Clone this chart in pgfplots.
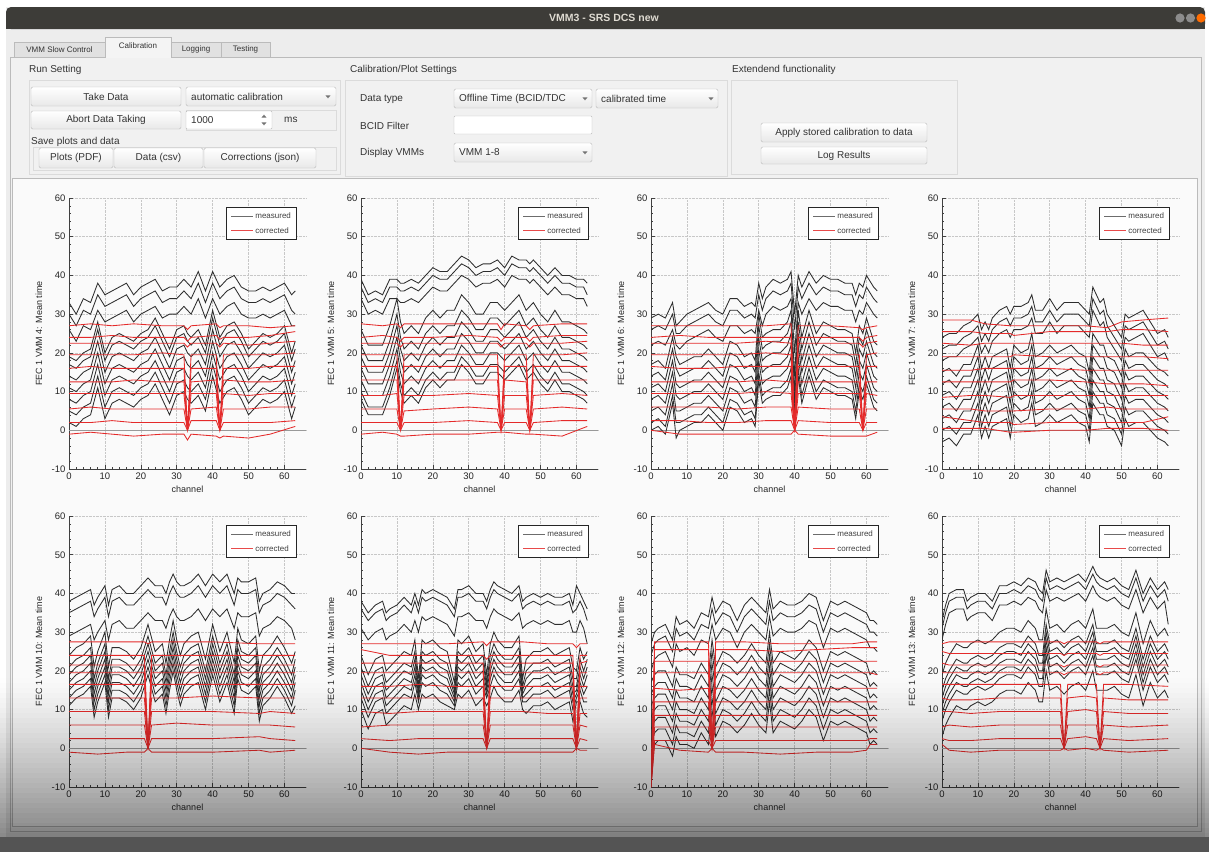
\documentclass[border=0pt]{standalone}
\usepackage{fontspec}
\setmainfont{Liberation Sans}
\usepackage{pgfplots}
\usepackage{pgfplotstable}
\pgfplotsset{compat=1.18}

\definecolor{winbg}{HTML}{EDEDED}
\definecolor{titlebar}{HTML}{3D3C38}
\definecolor{titletext}{HTML}{DFDBD2}
\definecolor{tabbg}{HTML}{E1E1E1}
\definecolor{tabsel}{HTML}{F4F4F4}
\definecolor{bord}{HTML}{BBBBBB}
\definecolor{panelbg}{HTML}{F1F1F1}
\definecolor{plotbg}{HTML}{FAFAFA}
\definecolor{guitext}{HTML}{333333}
\definecolor{meas}{RGB}{45,45,45}
\definecolor{corr}{RGB}{228,42,42}

% ---------------- data: measured (black) ----------------
\pgfplotstableread{
ch m1 m2 m3 m4 m5 m6 m7 m8 m9 m10
0 33 30 26 19 17 14 11 8 5 2
2 30 27 23 18 16 13 10 7 4 1
4 34 31 27 20 18 15 12 9 6 3
6 33 30 26 21 19 16 13 10 7 4
8 38 35 31 28 26 23 20 17 14 11
10 35 32 28 20 18 15 12 9 6 3
12 36 33 29 24 22 19 16 13 10 7
14 37 34 30 25 23 20 17 14 11 8
16 38 35 31 24 22 19 16 13 10 7
18 35 32 28 23 21 18 15 12 9 6
20 37 34 30 25 23 20 17 14 11 8
22 38 35 31 26 24 21 18 15 12 9
24 39 36 32 29 27 24 21 18 15 12
26 36 33 29 25 23 20 17 14 11 8
28 37 34 30 21 19 16 13 10 7 4
30 37 34 30 26 24 21 18 15 12 9
32 39 36 32 27 25 22 19 16 13 10
33 38 35 31 25 23 20 17 14 11 8
34 37 34 30 24 22 19 16 13 10 7
36 41 38 34 26 24 21 18 15 12 9
38 36 33 29 22 20 17 14 11 8 5
40 41 38 34 31 29 26 23 20 17 14
42 37 34 30 24 22 19 16 13 10 7
44 39 36 32 27 25 22 19 16 13 10
46 40 37 33 28 26 23 20 17 14 11
48 37 34 30 25 23 20 17 14 11 8
50 36 33 29 21 19 16 13 10 7 4
52 36 33 29 23 21 18 15 12 9 6
54 37 34 30 25 23 20 17 14 11 8
56 36 33 29 24 22 19 16 13 10 7
58 37 34 30 25 23 20 17 14 11 8
60 38 35 31 27 25 22 19 16 13 10
62 35 31 27 20 18 15 12 9 6 3
63 36 30 27 23 21 18 15 12 9 6
}\MeasA
\pgfplotstableread{
ch m1 m2 m3 m4 m5 m6 m7 m8 m9 m10
0 39 37 34 26 22 19 16 13 10 8
2 35 33 30 22 18 15 12 9 6 4
4 36 34 31 22 18 15 12 9 6 4
6 35 33 30 22 18 15 12 9 6 4
8 39 37 34 27 23 20 17 14 11 9
10 39 37 34 34 30 27 24 21 18 16
11 38 36 33 28 24 21 18 15 12 10
12 38 36 33 25 21 18 15 12 9 7
14 39 37 34 27 23 20 17 14 11 9
16 38 36 33 25 21 18 15 12 9 7
18 40 38 35 29 25 22 19 16 13 11
20 42 40 37 31 27 24 21 18 15 13
22 41 39 36 29 25 22 19 16 13 11
24 41 39 36 31 27 24 21 18 15 13
26 43 41 38 31 27 24 21 18 15 13
28 45 43 40 35 31 28 25 22 19 17
30 44 42 39 33 29 26 23 20 17 15
32 42 40 37 30 26 23 20 17 14 12
34 43 41 38 30 26 23 20 17 14 12
36 43 41 38 33 29 26 23 20 17 15
38 44 42 39 33 29 26 23 20 17 15
39 43 41 38 32 28 25 22 19 16 14
40 42 40 37 31 27 24 21 18 15 13
42 45 43 40 33 29 26 23 20 17 15
44 44 42 39 35 31 28 25 22 19 17
46 44 42 39 31 27 24 21 18 15 13
47 43 41 38 32 28 25 22 19 16 14
48 44 42 39 33 29 26 23 20 17 15
50 42 40 37 30 26 23 20 17 14 12
52 40 38 35 28 24 21 18 15 12 10
54 42 40 37 31 27 24 21 18 15 13
56 40 38 35 28 24 21 18 15 12 10
58 40 38 35 28 24 21 18 15 12 10
60 39 37 34 27 23 20 17 14 11 9
62 39 37 34 26 22 19 16 13 10 8
63 38 35 32 25 21 18 15 12 9 7
}\MeasB
\pgfplotstableread{
ch m1 m2 m3 m4 m5 m6 m7 m8 m9 m10
0 29 26 22 17 14 11 8 5 2 0
2 30 27 23 18 15 12 9 6 3 1
4 29 26 22 16 13 10 7 4 1 -1
6 33 30 26 24 21 18 15 12 9 7
7 27 25 22 19 16 12 9 5 2 -2
8 28 25 21 17 14 11 8 5 2 0
10 30 27 23 18 15 12 9 6 3 1
12 31 28 24 19 16 13 10 7 4 2
14 32 29 25 19 16 13 10 7 4 2
16 33 30 26 21 18 15 12 9 6 4
18 31 28 24 19 16 13 10 7 4 2
20 30 27 23 17 14 11 8 5 2 0
22 34 31 27 23 20 17 14 11 8 6
24 34 31 27 22 19 16 13 10 7 5
26 32 29 25 19 16 13 10 7 4 2
28 33 30 26 20 17 14 11 8 5 3
29 32 29 25 18 15 12 9 6 3 1
30 38 35 31 30 27 24 21 18 15 13
31 34 31 27 24 21 18 15 12 9 7
32 37 34 30 25 22 19 16 13 10 8
34 39 36 32 26 23 20 17 14 11 9
36 38 35 31 26 23 20 17 14 11 9
38 39 36 32 28 25 22 19 16 13 11
39 41 38 34 31 28 25 22 19 16 14
40 30 26 20 14 10 7 4 2 1 0
41 40 37 33 31 28 25 22 19 16 14
42 37 34 30 24 21 18 15 12 9 7
44 41 38 34 31 28 25 22 19 16 14
46 38 35 31 25 22 19 16 13 10 8
48 40 37 33 28 25 22 19 16 13 11
50 39 36 32 27 24 21 18 15 12 10
52 39 36 32 26 23 20 17 14 11 9
54 38 35 31 26 23 20 17 14 11 9
56 38 35 31 25 22 19 16 13 10 8
57 35 32 28 20 17 14 11 8 5 3
58 38 35 31 27 24 21 18 15 12 10
59 37 34 30 25 22 19 16 13 10 8
60 40 37 33 29 26 23 20 17 14 12
62 37 34 30 23 20 17 14 11 8 6
63 36 33 29 22 19 16 13 10 7 5
}\MeasC
\pgfplotstableread{
ch m1 m2 m3 m4 m5 m6 m7 m8 m9 m10
0 24 21 18 15 12 9 6 3 0 -3
2 25 22 19 16 13 10 7 4 1 -2
4 25 22 19 14 11 8 5 2 -1 -4
6 27 24 21 17 14 11 8 5 2 -1
8 28 25 22 17 14 11 8 5 2 -1
10 30 27 24 22 19 16 13 10 7 4
11 26 23 20 16 13 10 7 4 1 -2
12 28 25 22 19 16 13 10 7 4 1
13 26 23 20 16 13 10 7 4 1 -2
14 29 26 23 19 16 13 10 7 4 1
16 31 28 25 20 17 14 11 8 5 2
18 32 29 26 21 18 15 12 9 6 3
19 30 27 24 16 13 10 7 4 1 -2
20 32 29 26 22 19 16 13 10 7 4
22 32 29 26 20 17 14 11 8 5 2
24 33 30 27 21 18 15 12 9 6 3
25 35 32 29 25 22 19 16 13 10 7
26 31 28 25 19 16 13 10 7 4 1
28 31 28 25 20 17 14 11 8 5 2
30 34 31 28 22 19 16 13 10 7 4
32 31 28 25 20 17 14 11 8 5 2
34 33 30 27 21 18 15 12 9 6 3
36 33 30 27 22 19 16 13 10 7 4
38 33 30 27 20 17 14 11 8 5 2
40 31 28 25 19 16 13 10 7 4 1
41 30 27 24 15 12 9 6 3 0 -3
42 37 34 31 25 22 19 16 13 10 7
44 33 30 27 22 19 16 13 10 7 4
45 34 31 28 22 19 16 13 10 7 4
46 30 27 24 19 16 13 10 7 4 1
48 27 24 21 18 15 12 9 6 3 0
50 24 21 18 14 11 8 5 2 -1 -4
51 30 27 24 21 18 15 12 9 6 3
52 29 26 23 19 16 13 10 7 4 1
54 30 27 24 20 17 14 11 8 5 2
56 31 28 25 20 17 14 11 8 5 2
58 28 25 22 18 15 12 9 6 3 0
60 25 22 19 16 13 10 7 4 1 -2
62 26 23 20 15 12 9 6 3 0 -3
63 24 21 18 14 11 8 5 2 -1 -4
}\MeasD
\pgfplotstableread{
ch m1 m2 m3 m4 m5 m6 m7 m8 m9 m10
0 38 35 29 24 21 19 17 15 13 11
2 39 36 30 26 23 21 19 17 15 13
4 40 37 31 27 24 22 20 18 16 14
6 41 38 32 29 26 24 22 20 18 16
7 37 34 28 21 18 16 14 12 10 8
8 39 36 30 25 22 20 18 16 14 12
10 42 39 33 30 27 25 23 21 19 17
11 37 34 28 21 18 16 14 12 10 8
12 41 38 32 26 23 21 19 17 15 13
14 42 39 33 26 23 21 19 17 15 13
16 40 37 31 25 22 20 18 16 14 12
18 40 37 31 23 20 18 16 14 12 10
20 42 39 33 26 23 21 19 17 15 13
22 44 41 35 32 29 27 25 23 21 19
24 42 39 33 25 22 20 18 16 14 12
26 42 39 33 27 24 22 20 18 16 14
27 40 37 31 22 19 17 15 13 11 9
28 43 40 34 28 25 23 21 19 17 15
29 45 42 36 33 30 28 26 24 22 20
30 43 40 34 28 25 23 21 19 17 15
31 42 39 33 24 21 19 17 15 13 11
32 42 39 33 27 24 22 20 18 16 14
34 43 40 34 29 26 24 22 20 18 16
36 45 42 36 30 27 25 23 21 19 17
38 42 39 33 23 20 18 16 14 12 10
40 45 42 36 32 29 27 25 23 21 19
42 43 40 34 25 22 20 18 16 14 12
44 45 42 36 30 27 25 23 21 19 17
46 40 37 31 22 19 17 15 13 11 9
47 44 41 35 31 28 26 24 22 20 18
48 43 40 34 28 25 23 21 19 17 15
50 43 40 34 27 24 22 20 18 16 14
52 44 41 35 29 26 24 22 20 18 16
53 38 35 29 20 17 15 13 11 9 7
54 40 37 31 24 21 19 17 15 13 11
56 41 38 32 26 23 21 19 17 15 13
58 43 40 34 29 26 24 22 20 18 16
60 42 39 33 26 23 21 19 17 15 13
62 40 37 31 22 19 17 15 13 11 9
63 40 36 28 25 23 21 19 17 15 11
}\MeasE
\pgfplotstableread{
ch m1 m2 m3 m4 m5 m6 m7 m8 m9 m10
0 38 36 31 24 21 19 17 15 13 10
2 35 33 28 19 16 14 12 10 8 5
4 37 35 30 23 20 18 16 14 12 9
6 38 36 31 24 21 19 17 15 13 10
7 35 33 28 20 17 15 13 11 9 6
8 36 34 29 21 18 16 14 12 10 7
10 37 35 30 23 20 18 16 14 12 9
12 39 37 32 25 22 20 18 16 14 11
14 37 35 30 24 21 19 17 15 13 10
15 40 38 33 28 25 23 21 19 17 14
16 37 35 30 18 16 15 14 13 12 10
17 41 39 34 28 25 23 21 19 17 14
18 40 38 33 27 24 22 20 18 16 13
20 41 39 34 28 25 23 21 19 17 14
22 40 38 33 26 23 21 19 17 15 12
24 39 37 32 25 22 20 18 16 14 11
26 36 34 29 17 15 14 13 12 11 10
27 41 39 34 28 25 23 21 19 17 14
28 41 39 34 27 24 22 20 18 16 13
30 42 40 35 29 26 24 22 20 18 15
32 40 38 33 25 22 20 18 16 14 11
34 40 38 33 27 24 22 20 18 16 13
35 38 36 31 19 17 16 15 14 13 11
36 41 39 34 27 24 22 20 18 16 13
37 43 41 36 30 27 25 23 21 19 16
38 42 40 35 28 25 23 21 19 17 14
40 41 39 34 26 23 21 19 17 15 12
42 40 38 33 26 23 21 19 17 15 12
44 42 40 35 29 26 24 22 20 18 15
45 38 36 31 18 16 15 14 13 12 10
46 39 37 32 23 20 18 16 14 12 9
48 40 38 33 25 22 20 18 16 14 11
50 39 37 32 25 22 20 18 16 14 11
52 40 38 33 26 23 21 19 17 15 12
54 39 37 32 24 21 19 17 15 13 10
56 39 37 32 25 22 20 18 16 14 11
58 40 38 33 26 23 21 19 17 15 12
59 37 35 30 21 18 16 14 12 10 7
60 42 36 30 20 18 16 15 14 13 12
61 40 38 33 26 23 21 19 17 15 12
62 38 36 31 23 20 18 16 14 12 9
63 36 33 27 25 23 21 19 16 12 8
}\MeasF
\pgfplotstableread{
ch m1 m2 m3 m4 m5 m6 m7 m8 m9 m10
0 27 24 20 17 14 11 8 5 2 -1
1 30 27 23 19 16 13 10 7 4 1
2 31 28 24 20 17 14 11 8 5 2
4 32 29 25 20 17 14 11 8 5 2
6 28 25 21 16 13 10 7 4 1 -2
7 34 31 27 21 18 15 12 9 6 3
8 32 29 25 19 16 13 10 7 4 1
10 33 30 26 19 16 13 10 7 4 1
12 31 28 24 18 15 12 9 6 3 0
14 35 32 28 22 19 16 13 10 7 4
16 34 31 27 19 16 13 10 7 4 1
17 39 36 32 28 25 22 19 16 13 10
18 35 32 28 21 18 15 12 9 6 3
20 38 35 31 25 22 19 16 13 10 7
22 37 34 30 24 21 18 15 12 9 6
24 33 30 26 22 19 16 13 10 7 4
26 37 34 30 24 21 18 15 12 9 6
28 39 36 32 27 24 21 18 15 12 9
30 37 34 30 24 21 18 15 12 9 6
32 35 32 28 22 19 16 13 10 7 4
33 41 38 34 30 27 24 21 18 15 12
34 36 33 29 22 19 16 13 10 7 4
36 38 35 31 25 22 19 16 13 10 7
38 37 34 30 24 21 18 15 12 9 6
40 37 34 30 23 20 17 14 11 8 5
42 38 35 31 25 22 19 16 13 10 7
44 40 37 33 28 25 22 19 16 13 10
46 39 36 32 26 23 20 17 14 11 8
48 33 30 26 20 17 14 11 8 5 2
50 38 35 31 25 22 19 16 13 10 7
52 37 34 30 24 21 18 15 12 9 6
54 38 35 31 25 22 19 16 13 10 7
56 37 34 30 24 21 18 15 12 9 6
58 36 33 29 23 20 17 14 11 8 5
60 35 32 28 22 19 16 13 10 7 4
61 33 30 26 19 16 13 10 7 4 1
62 33 30 26 20 17 14 11 8 5 2
63 32 29 25 19 16 13 10 7 4 1
}\MeasG
\pgfplotstableread{
ch m1 m2 m3 m4 m5 m6 m7 m8 m9 m10
0 33 31 28 19 15 13 11 9 7 3
1 37 35 32 22 18 16 14 12 10 6
2 40 38 35 24 20 18 16 14 12 8
4 41 39 36 27 23 21 19 17 15 11
6 41 39 36 26 22 20 18 16 14 10
7 38 36 33 26 22 20 18 16 14 10
8 39 37 34 27 23 21 19 17 15 11
10 40 38 35 28 24 22 20 18 16 12
12 40 38 35 27 23 21 19 17 15 11
14 38 36 33 28 24 22 20 18 16 12
16 42 40 37 30 26 24 22 20 18 14
18 42 40 37 31 27 25 23 21 19 15
20 43 41 38 31 27 25 23 21 19 15
22 42 40 37 30 26 24 22 20 18 14
24 44 42 39 33 29 27 25 23 21 17
26 43 41 38 31 27 25 23 21 19 15
27 41 39 36 28 24 22 20 18 16 12
28 40 38 35 28 24 22 20 18 16 12
29 46 44 41 36 32 30 28 26 24 20
30 43 41 38 31 27 25 23 21 19 15
32 44 42 39 32 28 26 24 22 20 16
34 43 41 38 30 26 24 22 20 18 14
36 44 42 39 32 28 26 24 22 20 16
38 45 43 40 33 29 27 25 23 21 17
40 43 41 38 31 27 25 23 21 19 15
42 47 45 42 36 32 30 28 26 24 20
43 45 43 40 31 27 25 23 21 19 15
44 44 42 39 31 27 25 23 21 19 15
46 43 41 38 31 27 25 23 21 19 15
48 44 42 39 32 28 26 24 22 20 16
50 42 40 37 30 26 24 22 20 18 14
52 41 39 36 29 25 23 21 19 17 13
54 46 44 41 35 31 29 27 25 23 19
56 40 38 35 27 23 21 19 17 15 11
58 44 42 39 33 29 27 25 23 21 17
60 41 39 36 29 25 23 21 19 17 13
62 43 41 38 31 27 25 23 21 19 15
63 41 38 32 29 25 23 21 19 17 13
}\MeasH

% ---------------- data: corrected (red) ----------------
\pgfplotstableread{
ch c1 c2 c3 c4 c5 c6 c7 c8 c9 c10
0 27 24 22.5 19.5 16 12.5 9.5 5.5 2 -1
6 27.5 24 22.5 19.5 16.5 12.5 9.5 6 2 -0.5
12 27 24.5 22.5 19.5 16 12.5 9.5 5.5 2.5 -1
18 27.5 24 22.5 19.5 16 13 9.5 5.5 2 -1.5
26 27 24 22.5 20 16 12.5 9.5 5.5 2 -1
32 27 24 22.5 19.5 16 12.5 9.5 5.5 2 -1
33 26 23 21.5 0 0 0 0 0 0 -2.5
34 27 24 22.5 19.5 16 12.5 9.5 5.5 2.5 -1
41 27.5 24.5 22.5 19.5 16 13 9.5 6 2.5 -1.5
42 26.5 23.5 21.5 0 0 0 0 0 0 -2
43 27 24 22.5 19.5 16 13 9.5 5.5 2 -1.5
50 27 24 22 19.5 16 12.5 9 5.5 2 -2
56 26.5 24.5 22.5 19.5 16.5 12.5 9.5 6 2 -1
63 27 25.5 23 20 16.5 13 9.5 6 2.5 1
}\CorrA
\pgfplotstableread{
ch c1 c2 c3 c4 c5 c6 c7 c8 c9 c10
0 27.5 24 22.5 19.5 16.5 13 9 5.5 2 -1
6 27 24.5 22.5 19.5 16.5 13 9 5.5 2 -0.5
10 27.5 24 22.5 19.5 16.5 13 9.5 5.5 2 -1
11 26.5 23 21.5 0 0 0 0 0 0 -1.5
12 27.5 24 22.5 19.5 16.5 13 9 5 2 -1.5
20 27.5 24 22.5 19.5 16.5 13 9 5.5 2 -1
30 27.5 24.5 22.5 19.5 16.5 13 9.5 6 2.5 -1
38 27.5 24 22.5 19.5 16.5 13 9 5.5 2 -0.5
39 26 23 21.5 0 0 0 0 0 0 -0.5
40 27.5 24 22.5 19.5 16.5 13 9 5.5 2 -0.5
46 27 24 22.5 19.5 16.5 12.5 9 5.5 2 -1
47 26 23 21.5 0 0 0 0 0 0 -1
48 27 24 22.5 19.5 16.5 13 9 5.5 2 -1
56 27.5 24.5 22.5 19.5 16.5 13 9.5 6 2.5 -1.5
63 27.5 24.5 23 20 16.5 13 9 5.5 2.5 1
}\CorrB
\pgfplotstableread{
ch c1 c2 c3 c4 c5 c6 c7 c8 c9 c10
0 27 24 22.5 19.5 16.5 12.5 9.5 6 2.5 0
8 27 24.5 22.5 19.5 16 12.5 9.5 6 2.5 -1
16 27 24 22.5 19.5 16 12.5 9.5 6 2 -1
24 27 24 22.5 19.5 16.5 12.5 9.5 5.5 2 -1
32 27 24 23 20 16.5 13 10 6 2.5 -1
39 27.5 24 22.5 19.5 16.5 12.5 9.5 6 2.5 -1
40 0 0 0 0 0 0 0 0 0 0
41 27 24 22.5 19.5 16.5 12.5 9.5 6 2.5 -1
50 27 24 22.5 19.5 16.5 12.5 9.5 5.5 2 -1.5
58 26.5 24 22.5 19.5 16.5 12.5 9.5 5.5 2 -1.5
59 26 23 21.5 0 0 0 0 0 0 -1.5
60 26.5 24 22.5 19.5 16.5 12.5 9.5 5.5 2 -1.5
63 27 24.5 23 20 16.5 12.5 9 5.5 2 -0.5
}\CorrC
\pgfplotstableread{
ch c1 c2 c3 c4 c5 c6 c7 c8 c9 c10
0 28.5 25.5 22.5 19 15.5 12.5 8.5 5.5 3.5 0.5
8 28.5 25.5 22 19 15.5 12.5 9 5.5 2.5 0.5
12 27.5 25 22.5 19 16 12.5 9 5 2 0.5
19 27 25 22.5 19 16 12.5 8.5 5 2 -0.5
20 27 24.5 22.5 19.5 16 13 9 5 1.5 -0.5
30 27 25.5 22.5 19 16 13 9 5.5 2 0
40 27 25.5 22.5 19 15.5 12.5 9 5.5 2 0
46 26.5 25.5 22.5 19 15.5 12 9 6 2 0.5
50 28 26 22.5 19 15.5 12 9 5.5 2 0.5
56 28.5 26 22 19 15.5 12 9 5.5 2 0.5
63 29 25.5 22 18.5 15.5 11.5 9 5.5 3.5 0
}\CorrD
\pgfplotstableread{
ch c1 c2 c3 c4 c5 c6 c7 c8 c9 c10
0 27.5 24 21.5 19.5 16.5 13 9.5 6 2.5 -1
8 27.5 24 21.5 19.5 16.5 13 9.5 6 2.5 -1.5
16 27.5 24 21.5 19.5 16.5 13 9.5 6 2.5 -1
21 27.5 24 21.5 19.5 16.5 13 9.5 6 2.5 -1
22 27 0 0 0 0 0 0 0 0 0
23 27.5 24 21.5 19.5 16.5 13 9.5 6 2.5 -1
30 27.5 24 21.5 19.5 16.5 13 9.5 6.5 2.5 -1
40 27.5 24 21.5 19.5 16.5 13.5 9.5 6 2.5 -1
53 27 24 21.5 19.5 16.5 13 9 6 3 -0.5
56 27 24 21.5 19.5 16.5 13 9.5 6 2.5 -1
63 27 24 21.5 19.5 16.5 13 9 5.5 2 -0.5
}\CorrE
\pgfplotstableread{
ch c1 c2 c3 c4 c5 c6 c7 c8 c9 c10
0 27 25.5 22 19.5 16 13 9.5 5.5 2.5 0
8 27 24 22 19.5 16 13 9 6 2 -1
16 27 24 22 19.5 16.5 13 9.5 6 2.5 -1.5
24 27 24 22 19.5 16 13 9.5 6 2.5 -1
34 27.5 24 22 19.5 16 13 9.5 6 2.5 -1
35 26.5 23 0 0 0 0 0 0 0 -1
36 27.5 24 22 19.5 16 13 9.5 6 2.5 -1
45 27.5 24 22 19.5 16 13 9.5 6 2.5 -1
52 27 24 22 19.5 16 13 9 6 2.5 -1
59 27 24 22 19.5 16 13 9 6 2.5 -1
60 26 0 0 0 0 0 0 0 0 0
61 27 24 22 19.5 16 13 9 6 2.5 -0.5
63 27 24 22.5 19.5 16 13 9 5.5 2 -0.5
}\CorrF
\pgfplotstableread{
ch c1 c2 c3 c4 c5 c6 c7 c8 c9 c10
0 -10 -10 -10 -10 -10 -10 -10 -10 -10 -10
1 27.5 25.5 22.5 19.5 15.5 12 8.5 5.5 2 1
8 27.5 25.5 22.5 19.5 15 12 8.5 5.5 2 -0.5
16 27.5 25.5 22.5 19.5 15.5 12 8.5 5.5 2 -1
17 0 0 0 0 0 0 0 0 0 0
18 27.5 25.5 22.5 19.5 15.5 12 8.5 5.5 2 -1
26 27.5 25.5 22.5 19.5 15.5 12 8.5 5.5 2 -1
36 27 25 22.5 19.5 15.5 12 8.5 5.5 2 -1.5
46 27 25.5 22.5 19.5 15.5 12 8.5 5.5 2 -1
56 27 26 22.5 19.5 15.5 12 8.5 5.5 2 -1
60 27.5 26 22.5 19.5 15.5 12 8.5 5.5 2 -0.5
61 27.5 26 22.5 19.5 15.5 12 8.5 5.5 2.5 1
63 27.5 26 22.5 19 15.5 12 8.5 5.5 2.5 1
}\CorrG
\pgfplotstableread{
ch c1 c2 c3 c4 c5 c6 c7 c8 c9 c10
0 27 25 22 19.5 16.5 13 9.5 5.5 2.5 1
2 27.5 24.5 21.5 19.5 16.5 12.5 9.5 6 2 -0.5
8 27.5 24.5 21.5 19.5 16.5 12.5 9 5.5 2 -1
16 27.5 24.5 21.5 19.5 16.5 13 9.5 6 2.5 -0.5
24 27.5 24.5 21.5 19.5 16.5 13 9.5 6 2.5 -0.5
33 27.5 24.5 21.5 19.5 16.5 13 9.5 6 2.5 -0.5
34 27 24 21 19 0 0 0 0 0 0
35 27.5 24.5 21.5 19.5 16.5 13 9.5 6 2.5 -0.5
40 27.5 24.5 21.5 19.5 16.5 13.5 10 6 3 0
43 27.5 24.5 21.5 19.5 16.5 13 9.5 6 2.5 -0.5
44 27 24 21 19 0 0 0 0 0 0
45 27.5 24.5 21.5 19.5 16.5 13 9.5 6 2.5 -0.5
52 27.5 24.5 21.5 19.5 16.5 12.5 9 5.5 2 -1
63 27.5 24.5 21.5 19.5 16 12.5 9 6 2.5 -0.5
}\CorrH

\pgfplotsset{
  measln/.style={draw=meas, line width=0.85pt, mark=none},
  corrln/.style={draw=corr, line width=0.85pt, mark=none},
  zeroln/.style={draw=black!40, line width=0.8pt, mark=none},
  vmmstyle/.style={
    scale only axis, width=237pt, height=271pt,
    xmin=0, xmax=66, ymin=-10, ymax=60,
    xtick={0,10,...,60}, ytick={-10,0,...,60},
    minor x tick num=4, minor y tick num=4,
    axis x line*=bottom, axis y line*=left,
    axis line style={-, black!75, line width=0.6pt},
    tick align=inside, major tick length=4pt, minor tick length=2pt,
    every tick/.style={black!75, line width=0.5pt},
    grid=major, grid style={densely dotted, black!22, line width=0.5pt},
    /pgf/number format/assume math mode=true,
    tick label style={font=\fontsize{9.5}{10}\selectfont, text=black!85},
    label style={font=\fontsize{9}{10}\selectfont, text=black!85},
    xlabel={channel},
    xlabel style={at={(axis description cs:0.5,-0.074)}, anchor=center},
    ylabel style={at={(axis description cs:-0.127,0.5)}, anchor=center},
    legend style={at={(0.962,0.967)}, anchor=north east, draw=black!85, line width=1.1pt,
      fill=white, font=\fontsize{8}{9}\selectfont, text=black!75,
      inner xsep=4pt, inner ysep=3.5pt, row sep=4.5pt, nodes={inner sep=1.5pt}},
    legend cell align=left,
  }
}

\newcommand{\vmm}[5]{%
\begin{axis}[vmmstyle, at={(#1pt,-#2pt)}, anchor=south west, ylabel={FEC 1 VMM #3: Mean time}]
\addplot[zeroln, forget plot] coordinates {(0,0) (66,0)};
\pgfplotsinvokeforeach{1,...,10}{\addplot[measln, forget plot] table[x index=0, y index=##1] {#4};}
\pgfplotsinvokeforeach{1,...,10}{\addplot[corrln, forget plot] table[x index=0, y index=##1] {#5};}
\addlegendimage{legend image code/.code={\draw[draw=meas!70, line width=1pt] (0pt,0pt) -- (22pt,0pt);}}
\addlegendentry{measured}
\addlegendimage{legend image code/.code={\draw[draw=corr!85, line width=1pt] (0pt,0pt) -- (22pt,0pt);}}
\addlegendentry{corrected}
\end{axis}}

\newcommand{\gf}{\fontsize{10}{12}\selectfont}
\newcommand{\darr}[2]{\fill[black!55] (#1-2.6,#2-1.2) -- (#1+2.6,#2-1.2) -- (#1,#2+1.8) -- cycle;}
\newcommand{\uarr}[2]{\fill[black!55] (#1-2.6,#2+1.2) -- (#1+2.6,#2+1.2) -- (#1,#2-1.8) -- cycle;}

\tikzset{
  btn/.style={draw=bord, rounded corners=1.5pt, top color=white, bottom color=black!9},
  field/.style={draw=bord, fill=white, rounded corners=1pt},
  grp/.style={draw=black!14, line width=0.6pt},
  lbl/.style={anchor=west, text=guitext, font=\gf, inner sep=0pt},
  ctr/.style={text=guitext, font=\gf, inner sep=0pt},
}

\begin{document}
\begin{tikzpicture}
\begin{scope}[x=1pt,y=-1pt]
\path[use as bounding box] (0,0) rectangle (1209,852);
\fill[white] (0,0) rectangle (1209,852);
\fill[winbg] (6,7) rectangle (1205,852);
% title bar
\fill[titlebar, rounded corners=5pt] (6,7) rectangle (1205,29);
\fill[titlebar] (6,20) rectangle (1205,29);
\node[text=titletext, font=\bfseries\fontsize{10.5}{12}\selectfont] at (604,18) {VMM3 - SRS DCS new};
\fill[black!45] (1180,18) circle (4.6);
\fill[black!45] (1190.5,18) circle (4.6);
\fill[orange!85!red] (1201,18) circle (4.6);
% tabs
\draw[bord, fill=panelbg] (10,57) rectangle (1201,831);
\draw[bord, fill=tabbg] (14,42) rectangle (105,57);
\draw[bord, fill=tabbg] (171,42) rectangle (221,57);
\draw[bord, fill=tabbg] (221,42) rectangle (270,57);
\draw[bord, fill=tabsel] (105,57) -- (105,37) -- (171,37) -- (171,57);
\fill[tabsel] (105.5,55) rectangle (170.5,58);
\node[text=guitext, font=\fontsize{8}{9}\selectfont] at (59.5,49.5) {VMM Slow Control};
\node[text=guitext, font=\fontsize{8}{9}\selectfont] at (138,46) {Calibration};
\node[text=guitext, font=\fontsize{8}{9}\selectfont] at (196,49.5) {Logging};
\node[text=guitext, font=\fontsize{8}{9}\selectfont] at (245.5,49.5) {Testing};
% Run setting
\node[lbl] at (29,70) {Run Setting};
\draw[grp] (29,80) rectangle (340,174);
\draw[btn] (31,87) rectangle (181,106);
\node[ctr] at (106,96.5) {Take Data};
\draw[btn] (186,87) rectangle (336,106);
\node[lbl] at (191,96.5) {automatic calibration};
\darr{328}{96.5}
\draw[btn] (31,111) rectangle (181,129);
\node[ctr] at (106,120) {Abort Data Taking};
\draw[grp] (186,110) rectangle (336,130);
\draw[field] (186,111) rectangle (272,129);
\node[lbl] at (191,120) {1000};
\uarr{264}{116.5}
\darr{264}{123.5}
\node[lbl] at (284,120) {ms};
\node[lbl] at (31,142) {Save plots and data};
\draw[grp] (33,147) rectangle (336,170);
\draw[btn] (39,148) rectangle (113,168);
\node[ctr] at (76,158) {Plots (PDF)};
\draw[btn] (114,148) rectangle (203,168);
\node[ctr] at (158.5,158) {Data (csv)};
\draw[btn] (204,148) rectangle (316,168);
\node[ctr] at (260,158) {Corrections (json)};
% Calibration/plot settings
\node[lbl] at (350,70) {Calibration/Plot Settings};
\draw[grp] (345,80) rectangle (727,176);
\node[lbl] at (360,99) {Data type};
\draw[btn] (454,89) rectangle (592,108);
\node[lbl] at (459,98.5) {Offline Time (BCID/TDC};
\darr{585}{98.5}
\draw[btn] (596,89) rectangle (718,108);
\node[lbl] at (601,98.5) {calibrated time};
\darr{711}{98.5}
\node[lbl] at (360,126) {BCID Filter};
\draw[field] (454,116) rectangle (592,134);
\node[lbl] at (360,153) {Display VMMs};
\draw[btn] (454,143) rectangle (592,162);
\node[lbl] at (459,152.5) {VMM 1-8};
\darr{585}{152.5}
% Extended functionality
\node[lbl] at (732,70) {Extendend functionality};
\draw[grp] (731,80) rectangle (957,174);
\draw[btn] (761,123) rectangle (927,142);
\node[ctr] at (844,132.5) {Apply stored calibration to data};
\draw[btn] (761,147) rectangle (927,164);
\node[ctr] at (844,155.5) {Log Results};
% plot panel
\draw[bord, fill=plotbg] (12,178) rectangle (1197,826);
\end{scope}

\vmm{69}{469}{4}{\MeasA}{\CorrA}
\vmm{361}{469}{5}{\MeasB}{\CorrB}
\vmm{651}{469}{6}{\MeasC}{\CorrC}
\vmm{942}{469}{7}{\MeasD}{\CorrD}
\vmm{69}{787}{10}{\MeasE}{\CorrE}
\vmm{361}{787}{11}{\MeasF}{\CorrF}
\vmm{651}{787}{12}{\MeasG}{\CorrG}
\vmm{942}{787}{13}{\MeasH}{\CorrH}

\begin{scope}[x=1pt,y=-1pt]
\foreach \i in {0,...,31}{
  \pgfmathsetmacro{\op}{0.46*((\i+1)/32)^1.3}
  \fill[black, fill opacity=\op] (0,{678+5*\i}) rectangle (1209,{683+5*\i});
}
\fill[black!67] (0,837) rectangle (1209,852);
\end{scope}
\end{tikzpicture}
\end{document}
